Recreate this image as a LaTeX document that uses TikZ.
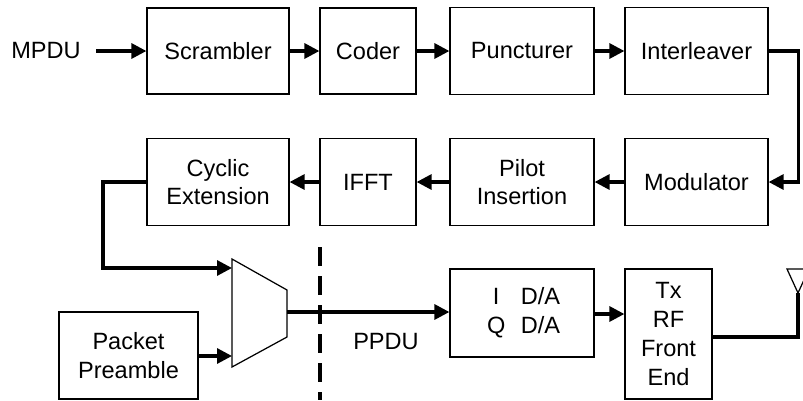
\documentclass[tikz,border=0pt]{standalone}
\usepackage{fontspec}
\setmainfont{Liberation Sans}
\usepackage{tikz}
\usetikzlibrary {arrows.meta}
\usetikzlibrary{calc}

\tikzset{
	blk/.style={draw, line width=0.7pt, align=center, inner sep=0pt,
		font=\fontsize{13.4}{16.4}\selectfont},
	conn/.style={line width=1.8pt, -{Triangle[length=3mm, width=3mm]}},
	wire/.style={line width=1.8pt},
	lbl/.style={font=\fontsize{13.4}{16.4}\selectfont, inner sep=0pt}
}

\begin{document}
\begin{tikzpicture}[x=0.2mm, y=-0.2mm]
	\useasboundingbox (0, 0) rectangle (803, 400);
	\clip (0, 0) rectangle (803, 400);

	% first row
	\node[lbl] (mpdu) at (46, 51) {MPDU};
	\node[blk, minimum width=28.4mm, minimum height=17.2mm] (scr) at (218, 51) {Scrambler};
	\node[blk, minimum width=19.2mm, minimum height=17.2mm] (cod) at (368, 51) {Coder};
	\node[blk, minimum width=28.8mm, minimum height=17.4mm] (pun) at (522, 51) {Puncturer};
	\node[blk, minimum width=28.6mm, minimum height=17.4mm] (int) at (696.5, 51) {Interleaver};

	% second row
	\node[blk, minimum width=28.6mm, minimum height=17.4mm] (mod) at (696.5, 182) {Modulator};
	\node[blk, minimum width=28.8mm, minimum height=17.4mm] (pil) at (522, 182) {Pilot\\Insertion};
	\node[blk, minimum width=19.2mm, minimum height=17.4mm] (ifft) at (368, 182) {IFFT};
	\node[blk, minimum width=28.4mm, minimum height=17.4mm] (cyc) at (218, 182) {Cyclic\\Extension};

	% third row
	\node[blk, minimum width=27.8mm, minimum height=17.4mm] (pre) at (128.5, 355.5) {Packet\\Preamble};
	\node[blk, minimum width=28.8mm, minimum height=17.6mm] (iq) at (522, 313)
		{\makebox[14pt]{I}\hspace{7pt}D/A\\\makebox[14pt]{Q}\hspace{7pt}D/A};
	\node[blk, minimum width=17.4mm, minimum height=26mm] (tx) at (668.5, 334) {Tx\\RF\\Front\\End};
	\node[lbl] (ppdu) at (386, 342) {PPDU};

	% multiplexer
	\draw[line width=0.7pt] (232, 259) -- (287, 290) -- (287, 337) -- (232, 367) -- cycle;
	\coordinate (muxa) at (232, 268);
	\coordinate (muxb) at (232, 356);
	\coordinate (muxo) at (287, 312);

	% antenna
	\draw[line width=0.7pt] (787, 269) -- (809, 269) -- (798, 293) -- cycle;
	\coordinate (ant) at (798, 293);

	\draw[conn] (mpdu.east) ++(15, 0) -- (scr.west);
	\draw[conn] (scr) -- (cod);
	\draw[conn] (cod) -- (pun);
	\draw[conn] (pun) -- (int);
	\draw[conn] (int.east) -| ($(mod.east) + (30, 0)$) -- (mod.east);
	\draw[conn] (mod) -- (pil);
	\draw[conn] (pil) -- (ifft);
	\draw[conn] (ifft) -- (cyc);
	\draw[conn] (cyc.west) -| ($(muxa) + (-129, 0)$) -- (muxa);
	\draw[conn] (pre.east |- muxb) -- (muxb);
	\draw[conn] (muxo) -- (iq.west |- muxo);
	\draw[conn] (iq.east) ++(0, 1) -- ($(tx.west |- iq.east) + (0, 1)$);
	\draw[wire] (tx.east |- 0, 337) -| (ant);

	\draw[line width=1.8pt, dash pattern=on 3.8mm off 2mm] (320, 247) -- (320, 400);
\end{tikzpicture}
\end{document}
